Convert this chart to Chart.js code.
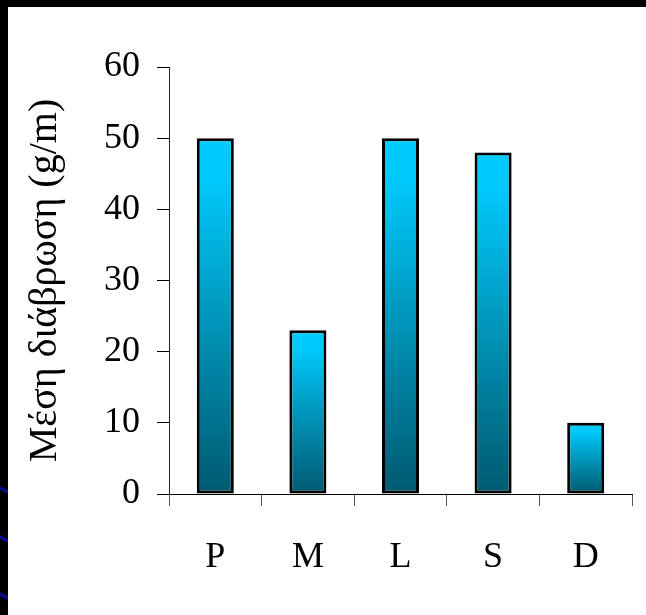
<!DOCTYPE html>
<html>
<head>
<meta charset="utf-8">
<script src="https://cdn.jsdelivr.net/npm/chart.js@4/dist/chart.umd.min.js"></script>
<style>
  html, body { margin: 0; padding: 0; background: #fff; }
  #wrap { width: 646px; height: 615px; position: relative; }
</style>
</head>
<body>
<div id="wrap"><canvas id="c" width="646" height="615"></canvas></div>
<script>
// Mean erosion per site
const categories = ['P', 'M', 'L', 'S', 'D'];
const erosionValues = [50, 23, 50, 48, 10];
const yAxisTitle = 'Μέση διάβρωση (g/m)';
const yMin = 0, yMax = 60, yStep = 10;

const FONT = "'Liberation Serif', 'Times New Roman', serif";

// Slide-style background: white page with dark top/left edge and blue streaks
const framePlugin = {
  id: 'frame',
  beforeDraw(chart) {
    const c = chart.ctx;
    c.save();
    c.fillStyle = '#ffffff';
    c.fillRect(0, 0, chart.width, chart.height);
    c.fillStyle = '#000000';
    c.fillRect(0, 0, chart.width, 7);
    c.fillRect(0, 0, 8, chart.height);
    c.fillStyle = '#0b0b86';
    [486, 535, 592].forEach(y0 => {
      c.beginPath();
      c.moveTo(0, y0);
      c.lineTo(8, y0 + 4);
      c.lineTo(8, y0 + 8);
      c.lineTo(0, y0 + 4);
      c.closePath();
      c.fill();
    });
    c.restore();
  }
};

// Vertical gradient spanning each bar from its top down to the baseline
function barGradient(context) {
  const chart = context.chart;
  if (!chart.chartArea || context.type !== 'data') return '#0099c0';
  const y = chart.scales.y;
  const top = y.getPixelForValue(context.raw);
  const bottom = y.getPixelForValue(0);
  const g = chart.ctx.createLinearGradient(0, top, 0, bottom);
  g.addColorStop(0, '#00ccff');
  g.addColorStop(0.12, '#00c8fa');
  g.addColorStop(0.55, '#0090b4');
  g.addColorStop(1, '#005a70');
  return g;
}

new Chart(document.getElementById('c'), {
  type: 'bar',
  data: {
    labels: categories,
    datasets: [{
      data: erosionValues,
      backgroundColor: barGradient,
      borderColor: '#000000',
      borderWidth: 3,
      borderSkipped: false,
      barPercentage: 0.4,
      categoryPercentage: 1.0
    }]
  },
  options: {
    responsive: false,
    animation: false,
    devicePixelRatio: 1,
    layout: { padding: { left: 8, top: 67, right: 14, bottom: 0 } },
    plugins: {
      legend: { display: false },
      tooltip: { enabled: false }
    },
    scales: {
      x: {
        offset: true,
        border: { display: true, color: '#000000', width: 1 },
        grid: {
          offset: true,
          drawOnChartArea: false,
          drawTicks: true,
          tickLength: 12,
          color: '#555555'
        },
        ticks: {
          color: '#000000',
          font: { family: FONT, size: 36 },
          padding: 30
        },
        afterFit(scale) { scale.height = 121; }
      },
      y: {
        min: yMin,
        max: yMax,
        border: { display: true, color: '#222222', width: 1 },
        grid: {
          drawOnChartArea: false,
          drawTicks: true,
          tickLength: 12,
          color: '#000000'
        },
        ticks: {
          stepSize: yStep,
          color: '#000000',
          font: { family: FONT, size: 36 },
          padding: 17
        },
        title: {
          display: true,
          text: yAxisTitle,
          color: '#000000',
          font: { family: FONT, size: 40 },
          padding: { top: 13, bottom: 0 }
        },
        afterFit(scale) { scale.width = 161; }
      }
    }
  },
  plugins: [framePlugin]
});
</script>
</body>
</html>
